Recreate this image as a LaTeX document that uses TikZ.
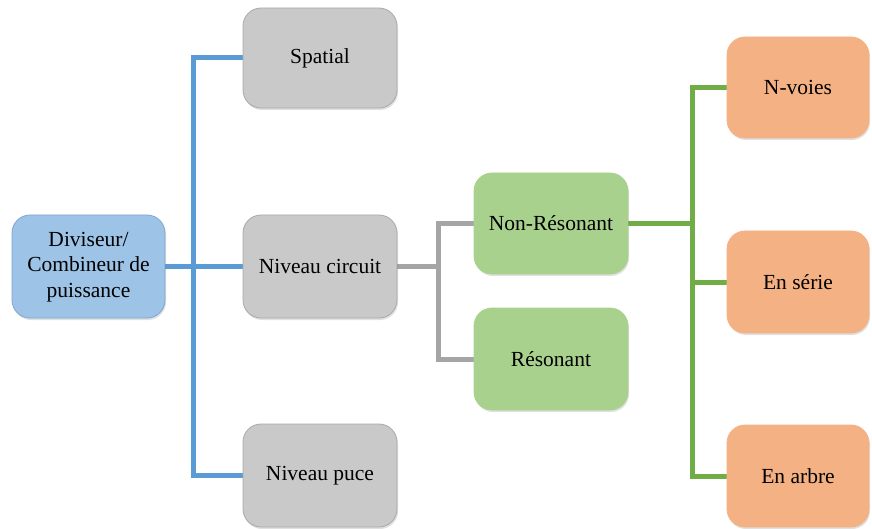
\documentclass[tikz,border=0pt]{standalone}
\usepackage{fontspec}
\setmainfont{Liberation Serif}
\usetikzlibrary{backgrounds,shadows}
\definecolor{bfill}{HTML}{9DC3E6}
\definecolor{bdraw}{HTML}{7EA6D4}
\definecolor{gfill}{HTML}{C9C9C9}
\definecolor{gdraw}{HTML}{A9A9A9}
\definecolor{vfill}{HTML}{A9D18E}
\definecolor{vdraw}{HTML}{A9D18E}
\definecolor{ofill}{HTML}{F4B183}
\definecolor{odraw}{HTML}{F4B183}
\definecolor{bline}{HTML}{5B9BD5}
\definecolor{gline}{HTML}{A5A5A5}
\definecolor{vline}{HTML}{70AD47}
\begin{document}
\begin{tikzpicture}[x=1pt,y=-1pt,
  box/.style={rounded corners=18pt, line width=0.8pt, align=center,
    font=\fontsize{21.5}{25.5}\selectfont, inner sep=0pt,
    drop shadow={shadow xshift=1pt,shadow yshift=-2pt,opacity=0.12,fill=black}},
  bluebox/.style={box, fill=bfill, draw=bdraw},
  graybox/.style={box, fill=gfill, draw=gdraw},
  greenbox/.style={box, fill=vfill, draw=vdraw},
  orangebox/.style={box, fill=ofill, draw=odraw},
  conn/.style={line width=5pt}]
\useasboundingbox (0,0) rectangle (872,529);
\node[bluebox, minimum width=153pt, minimum height=103pt] (div) at (88.5,266.5) {\raisebox{-3.5pt}{\begin{tabular}{@{}c@{}}Diviseur/\\Combineur de\\puissance\end{tabular}}};
\node[graybox, minimum width=154pt, minimum height=100pt] (spa) at (320,58) {Spatial};
\node[graybox, minimum width=154pt, minimum height=103pt] (niv) at (320,266.5) {Niveau circuit};
\node[graybox, minimum width=154pt, minimum height=103pt] (puce) at (320,475.5) {Niveau puce};
\node[greenbox, minimum width=154pt, minimum height=101pt] (nonres) at (551,223.5) {Non-Résonant};
\node[greenbox, minimum width=154pt, minimum height=102pt] (res) at (551,359) {Résonant};
\node[orangebox, minimum width=142pt, minimum height=101pt] (nvoies) at (798,87.5) {N-voies};
\node[orangebox, minimum width=142pt, minimum height=102pt] (serie) at (798,282) {En série};
\node[orangebox, minimum width=142pt, minimum height=102pt] (arbre) at (798,476) {En arbre};
\coordinate (bx) at (193,0);
\coordinate (gx) at (438,0);
\coordinate (vx) at (692,0);
\begin{scope}[on background layer]
\draw[conn, bline] (spa.west) -| (bx |- puce.west) -- (puce.west);
\draw[conn, bline] (div.east) -- (niv.west);
\draw[conn, gline] (nonres.west) -| (gx |- res.west) -- (res.west);
\draw[conn, gline] (niv.east) -- (niv.east -| gx);
\draw[conn, vline] (nvoies.west) -| (vx |- arbre.west) -- (arbre.west);
\draw[conn, vline] (nonres.east) -- (nonres.east -| vx);
\draw[conn, vline] (serie.west) -- (serie.west -| vx);
\end{scope}
\end{tikzpicture}
\end{document}
